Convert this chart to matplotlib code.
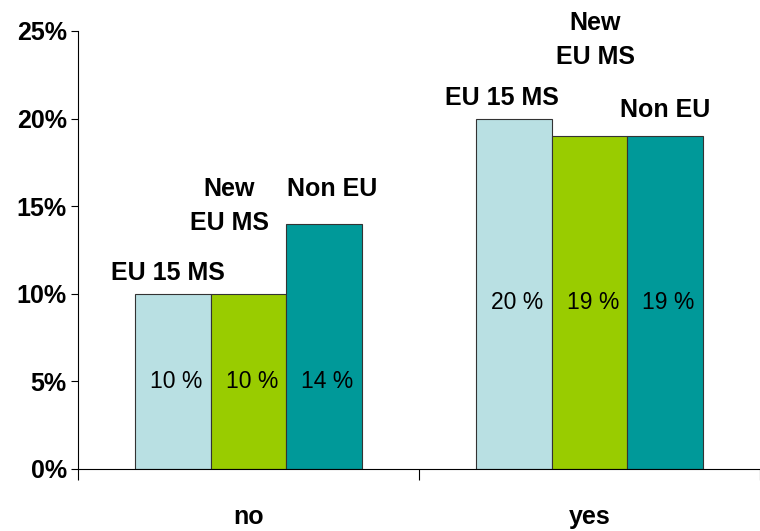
import matplotlib.pyplot as plt
import numpy as np

plt.rcParams['font.family'] = ['Liberation Sans', 'DejaVu Sans']

# data
categories = ['no', 'yes']
series = ['EU 15 MS', 'New\nEU MS', 'Non EU']
values = {
    'EU 15 MS': [10, 20],
    'New\nEU MS': [10, 19],
    'Non EU': [14, 19],
}
y_ticks = [0, 5, 10, 15, 20, 25]

colors = ['#b9e0e3', '#99cc00', '#009999']
# label offsets (points) above each bar, per series and group
label_dy = [[6, 6], [42, 48], [16, 10]]
label_dx = [[-4, -9], [-14, 4], [6, 0]]

fig = plt.figure(figsize=(7.6, 5.31), dpi=100)
ax = fig.add_axes([78 / 760, 62 / 531, 1 - 78 / 760, (469 - 31) / 531])

x = np.arange(len(categories))
w = 0.221
for i, name in enumerate(series):
    xs = x + (i - 1) * w
    bars = ax.bar(xs, values[name], width=w, color=colors[i],
                  edgecolor='#333333', linewidth=0.8, zorder=2)
    for j, b in enumerate(bars):
        v = values[name][j]
        ax.annotate(name, (xs[j], v),
                    xytext=(label_dx[i][j], label_dy[i][j]),
                    textcoords='offset points', ha='center', va='bottom',
                    fontsize=18, fontweight='bold', linespacing=1.55)

# value labels sit halfway up the shortest bar of each group
for j in range(len(categories)):
    mid = min(values[s][j] for s in series) / 2
    for i, name in enumerate(series):
        ax.text(x[j] + (i - 1) * w + 0.01, mid, f'{values[name][j]} %',
                ha='center', va='center', fontsize=16.5)

ax.set_xlim(-0.5, 1.477)
ax.set_ylim(0, 25)
ax.set_yticks(y_ticks)
ax.set_yticklabels([f'{t}%' for t in y_ticks], fontsize=18, fontweight='bold')
ax.tick_params(axis='y', direction='out', length=5, width=0.8, pad=3)

ax.set_xticks([-0.5, 0.5, 1.5])
ax.set_xticklabels([])
ax.tick_params(axis='x', direction='out', length=8, width=0.8)
for j, c in enumerate(categories):
    ax.text(x[j], -2.75, c, ha='center', va='center', fontsize=18,
            fontweight='bold')

for s in ['top', 'right']:
    ax.spines[s].set_visible(False)
ax.spines['left'].set_linewidth(0.8)
ax.spines['bottom'].set_linewidth(0.8)

fig.savefig('out.png', dpi=100)
